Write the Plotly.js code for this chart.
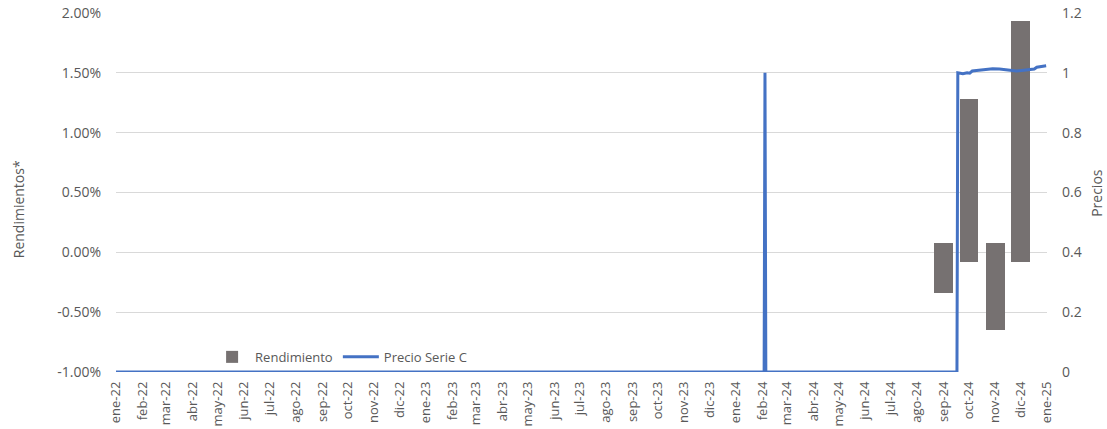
<!DOCTYPE html>
<html>
<head>
<meta charset="utf-8">
<script src="https://cdn.plot.ly/plotly-3.0.1.min.js"></script>
<style>html,body{margin:0;padding:0;background:#fff;}#chart{width:1107px;height:429px;}</style>
</head>
<body>
<div id="chart"></div>
<script>
// Month tick positions and labels
const monthTicks = ['2022-01-01','2022-02-01','2022-03-01','2022-04-01','2022-05-01','2022-06-01','2022-07-01','2022-08-01','2022-09-01','2022-10-01','2022-11-01','2022-12-01',
  '2023-01-01','2023-02-01','2023-03-01','2023-04-01','2023-05-01','2023-06-01','2023-07-01','2023-08-01','2023-09-01','2023-10-01','2023-11-01','2023-12-01',
  '2024-01-01','2024-02-01','2024-03-01','2024-04-01','2024-05-01','2024-06-01','2024-07-01','2024-08-01','2024-09-01','2024-10-01','2024-11-01','2024-12-01','2025-01-01'];
const monthLabels = ['ene-22','feb-22','mar-22','abr-22','may-22','jun-22','jul-22','ago-22','sep-22','oct-22','nov-22','dic-22',
  'ene-23','feb-23','mar-23','abr-23','may-23','jun-23','jul-23','ago-23','sep-23','oct-23','nov-23','dic-23',
  'ene-24','feb-24','mar-24','abr-24','may-24','jun-24','jul-24','ago-24','sep-24','oct-24','nov-24','dic-24','ene-25'];

// Left axis ticks (fractions) and labels
const rendTicks = [-0.01, -0.005, 0, 0.005, 0.01, 0.015, 0.02];
const rendTickLabels = ['-1.00%', '-0.50%', '0.00%', '0.50%', '1.00%', '1.50%', '2.00%'];

// Rendimiento (floating bars): low and high ends, as fractions
const rendDates = ['2024-09-01','2024-10-01','2024-11-01','2024-12-01'];
const rendLow  = [-0.0034, -0.0008, -0.0065, -0.0008];
const rendHigh = [ 0.0008,  0.0128,  0.0008,  0.0193];

// Precio Serie C
const priceDates = ['2022-01-01','2024-02-03','2024-02-04','2024-02-05','2024-09-17','2024-09-18',
  '2024-09-24','2024-09-29','2024-10-02','2024-10-05','2024-10-10','2024-10-13','2024-10-17','2024-10-23','2024-10-29',
  '2024-11-06','2024-11-14','2024-11-20','2024-11-26','2024-12-02','2024-12-09','2024-12-17','2024-12-20','2024-12-26','2024-12-31'];
const priceValues = [0, 0, 1, 0, 0, 1.000,
  0.997, 1.000, 0.999, 1.006, 1.008, 1.009, 1.011, 1.013, 1.014,
  1.013, 1.011, 1.007, 1.006, 1.008, 1.010, 1.013, 1.019, 1.023, 1.024];

const FONT = '"Open Sans", Lato, sans-serif';
const GREY = '#595959';

const traces = [
  {
    type: 'bar', name: 'Rendimiento',
    x: rendDates,
    base: rendLow,
    y: rendHigh.map((h, i) => h - rendLow[i]),
    width: 22 * 86400000,
    marker: {color: '#767171'},
    yaxis: 'y',
    hoverinfo: 'skip'
  },
  {
    type: 'scatter', mode: 'lines', name: 'Precio Serie C',
    x: priceDates, y: priceValues,
    line: {color: '#4472C4', width: 3},
    yaxis: 'y2'
  }
];

const layout = {
  width: 1107, height: 429,
  margin: {l: 116, r: 60, t: 13, b: 57},
  paper_bgcolor: '#fff', plot_bgcolor: '#fff',
  font: {family: FONT, size: 13, color: GREY},
  showlegend: true,
  legend: {
    orientation: 'h', x: 0.1, y: 0.042, xanchor: 'left', yanchor: 'middle',
    bgcolor: 'rgba(0,0,0,0)', font: {family: FONT, size: 13, color: GREY},
    itemwidth: 36, tracegroupgap: 0
  },
  xaxis: {
    type: 'date',
    range: ['2022-01-01', '2025-01-01'],
    tickmode: 'array', tickvals: monthTicks, ticktext: monthLabels,
    tickangle: -90,
    showgrid: false, zeroline: false, showline: false, ticks: '',
    tickfont: {family: FONT, size: 13, color: GREY},
    ticklabelstandoff: 6
  },
  yaxis: {
    range: [-0.01, 0.02],
    tickmode: 'array', tickvals: rendTicks, ticktext: rendTickLabels,
    showgrid: true, gridcolor: '#d9d9d9', gridwidth: 1,
    zeroline: false, showline: false, ticks: '',
    tickfont: {family: FONT, size: 14, color: GREY},
    ticklabelstandoff: 14
  },
  yaxis2: {
    overlaying: 'y', side: 'right',
    range: [0, 1.2],
    tickmode: 'linear', tick0: 0, dtick: 0.2,
    showgrid: false, zeroline: false, showline: false, ticks: '',
    tickfont: {family: FONT, size: 14, color: GREY},
    ticklabelstandoff: 14
  },
  annotations: [
    {text: 'Rendimientos*', xref: 'paper', yref: 'paper', x: -0.105, y: 0.454,
     xanchor: 'center', yanchor: 'middle', textangle: -90, showarrow: false,
     font: {family: FONT, size: 14, color: GREY}},
    {text: 'Precios', xref: 'paper', yref: 'paper', x: 1.053, y: 0.5,
     xanchor: 'center', yanchor: 'middle', textangle: -90, showarrow: false,
     font: {family: FONT, size: 14, color: GREY}}
  ],
  bargap: 0
};

Plotly.newPlot('chart', traces, layout, {displayModeBar: false, staticPlot: true});
</script>
</body>
</html>
